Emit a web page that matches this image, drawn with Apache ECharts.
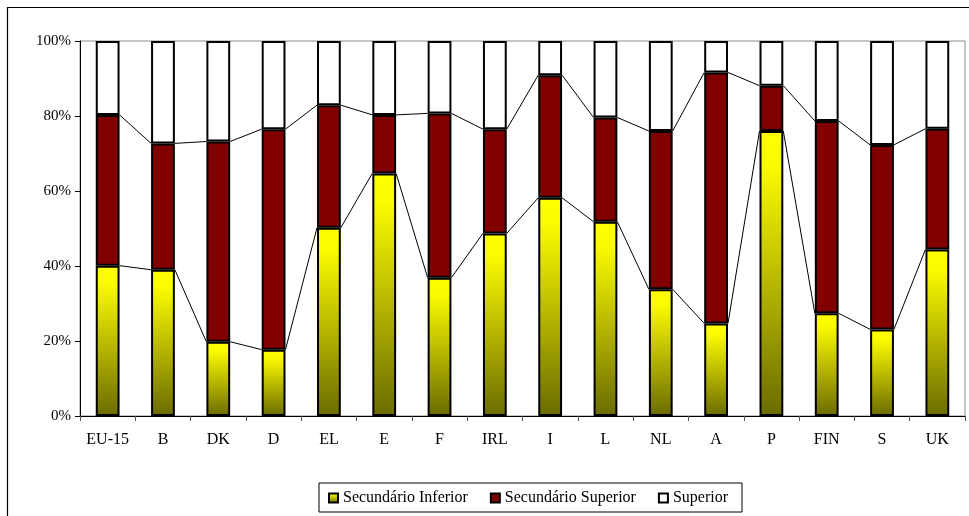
<!DOCTYPE html>
<html>
<head>
<meta charset="utf-8">
<script src="https://cdn.jsdelivr.net/npm/echarts@6/dist/echarts.min.js"></script>
<style>
  html, body { margin: 0; padding: 0; background: #fff; }
  #chart { width: 969px; height: 516px; }
</style>
</head>
<body>
<div id="chart"></div>
<script>
// Countries / EU average
const categories = ['EU-15', 'B', 'DK', 'D', 'EL', 'E', 'F', 'IRL', 'I', 'L', 'NL', 'A', 'P', 'FIN', 'S', 'UK'];
// Share of each education level (%)
const secundarioInferior = [40.1, 39.0, 19.8, 17.7, 50.2, 64.7, 36.9, 48.7, 58.2, 51.8, 33.8, 24.7, 76.0, 27.4, 23.1, 44.4];
const secundarioSuperior = [40.2, 33.7, 53.4, 58.8, 32.7, 15.6, 43.8, 27.8, 32.7, 27.8, 42.2, 66.9, 12.1, 51.3, 49.2, 32.2];
const superior = [19.7, 27.3, 26.8, 23.5, 17.1, 19.7, 19.3, 23.5, 9.1, 20.4, 24.0, 8.4, 11.9, 21.3, 27.7, 23.4];
const yTicks = [0, 20, 40, 60, 80, 100];

const FONT = 'Liberation Serif';
const BAR_FRAC = 0.43;

// Cumulative tops of the first two stacked segments, used for the series lines
const cumInf = secundarioInferior.slice();
const cumSup = secundarioInferior.map((v, i) => v + secundarioSuperior[i]);

function connectorData(tops) {
  const out = [];
  for (let i = 0; i < tops.length - 1; i++) out.push([i, tops[i], tops[i + 1]]);
  return out;
}

function renderConnector(params, api) {
  const half = api.size([1, 0])[0] * BAR_FRAC / 2;
  const i = api.value(0);
  const p1 = api.coord([i, api.value(1)]);
  const p2 = api.coord([i + 1, api.value(2)]);
  return {
    type: 'line',
    shape: { x1: p1[0] + half, y1: p1[1], x2: p2[0] - half, y2: p2[1] },
    style: { stroke: '#000', lineWidth: 1 }
  };
}

const yellowGrad = new echarts.graphic.LinearGradient(0, 0, 0, 1, [
  { offset: 0, color: '#ffff00' },
  { offset: 0.12, color: '#fbfb00' },
  { offset: 1, color: '#6b6b00' }
]);

const barStyle = (color) => ({ color: color, borderColor: '#000', borderWidth: 2 });

const chart = echarts.init(document.getElementById('chart'), null, { renderer: 'canvas' });
chart.setOption({
  animation: false,
  backgroundColor: '#fff',
  textStyle: { fontFamily: FONT, color: '#000' },
  graphic: [{
    type: 'rect',
    shape: { x: 7.5, y: 7.5, width: 1000, height: 600 },
    style: { fill: 'none', stroke: '#000', lineWidth: 1.2 },
    silent: true,
    z: -1
  }],
  grid: {
    left: 80, right: 4, top: 41, bottom: 100,
    show: true, borderColor: '#8c8c8c', borderWidth: 1
  },
  legend: {
    data: ['Secundário Inferior', 'Secundário Superior', 'Superior'],
    left: 319, top: 483,
    padding: [7, 14, 6, 9],
    itemWidth: 9, itemHeight: 9, itemGap: 22,
    borderColor: '#000', borderWidth: 1,
    icon: 'rect',
    textStyle: { fontFamily: FONT, fontSize: 16, color: '#000', padding: [0, 0, 0, 0] }
  },
  xAxis: {
    type: 'category',
    data: categories,
    axisLine: { lineStyle: { color: '#000', width: 1 } },
    axisTick: { show: true, alignWithLabel: false, length: 5, lineStyle: { color: '#555' } },
    axisLabel: { fontFamily: FONT, fontSize: 16, color: '#000', margin: 16, interval: 0 }
  },
  yAxis: {
    type: 'value',
    min: yTicks[0], max: yTicks[yTicks.length - 1], interval: 20,
    splitLine: { show: false },
    axisLine: { show: true, lineStyle: { color: '#000', width: 1 } },
    axisTick: { show: true, length: 5, lineStyle: { color: '#000' } },
    axisLabel: { fontFamily: FONT, fontSize: 15, color: '#000', margin: 9, formatter: '{value}%' }
  },
  series: [
    {
      name: 'Secundário Inferior', type: 'bar', stack: 'total',
      barWidth: (BAR_FRAC * 100) + '%',
      itemStyle: barStyle(yellowGrad),
      data: secundarioInferior
    },
    {
      name: 'Secundário Superior', type: 'bar', stack: 'total',
      itemStyle: barStyle('#800000'),
      data: secundarioSuperior
    },
    {
      name: 'Superior', type: 'bar', stack: 'total',
      itemStyle: barStyle('#ffffff'),
      data: superior
    },
    {
      name: 'linhaInferior', type: 'custom', renderItem: renderConnector,
      data: connectorData(cumInf), z: 5, silent: true
    },
    {
      name: 'linhaSuperior', type: 'custom', renderItem: renderConnector,
      data: connectorData(cumSup), z: 5, silent: true
    }
  ]
});
</script>
</body>
</html>
